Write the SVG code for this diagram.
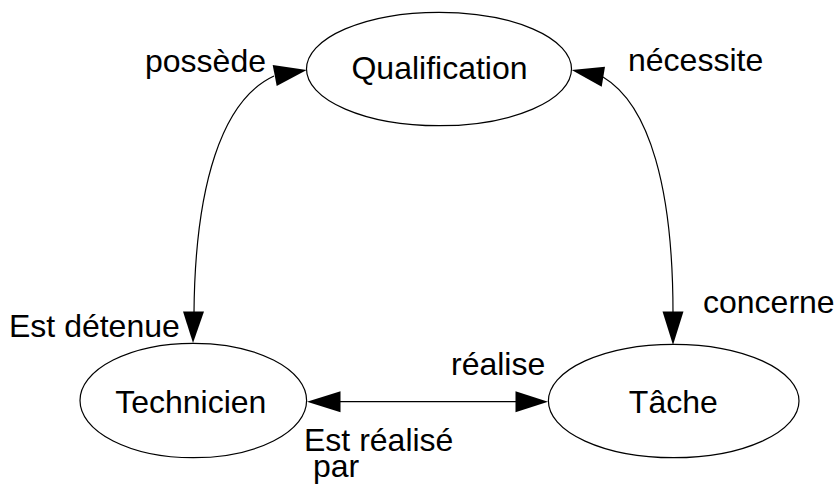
<svg xmlns="http://www.w3.org/2000/svg" width="837" height="494" viewBox="0 0 837 494">
<style>
  .shape { fill: #ffffff; stroke: #000000; stroke-width: 1.2; }
  .lbl { font-family: "Liberation Sans", Arial, sans-serif; font-size: 32px; fill: #000000; }
  .mid { text-anchor: middle; }
  .conn { fill: none; stroke: #000000; stroke-width: 1.2; }
  .head { fill: #000000; stroke: none; }
</style>
<rect width="837" height="494" fill="#ffffff"/>
<g id="connectors">
  <path class="conn" d="M 274 76 C 222 100, 195 185, 194 313"/>
  <polygon class="head" points="306.7,70 272.7,65 276.7,86"/>
  <polygon class="head" points="193,343 183,311.5 204,311.5"/>
  <path class="conn" d="M 603 77 C 650 105, 673 190, 673 313"/>
  <polygon class="head" points="571.7,70 605,66.7 601.7,86.7"/>
  <polygon class="head" points="673,345 662.5,311.5 683.5,311.5"/>
  <line class="conn" x1="338" y1="401.7" x2="517" y2="401.7"/>
  <polygon class="head" points="307,401.7 340.5,391.2 340.5,412.2"/>
  <polygon class="head" points="548,401.7 515.5,391.2 515.5,412.2"/>
  <text class="lbl" x="145" y="71.5">possède</text>
  <text class="lbl" x="628" y="71">nécessite</text>
  <text class="lbl" x="9" y="336.7">Est détenue</text>
  <text class="lbl" x="703" y="313.3">concerne</text>
  <text class="lbl" x="451" y="375">réalise</text>
  <text class="lbl"><tspan x="304" y="450.7">Est réalisé</tspan><tspan x="313" y="476.7">par</tspan></text>
</g>
<g id="qualification">
  <ellipse class="shape" cx="439" cy="69" rx="132.5" ry="56.7"/>
  <text class="lbl mid" x="439.5" y="79.3">Qualification</text>
</g>
<g id="technicien">
  <ellipse class="shape" cx="193.3" cy="400.5" rx="113.3" ry="57.2"/>
  <text class="lbl mid" x="190.8" y="413.3">Technicien</text>
</g>
<g id="tache">
  <ellipse class="shape" cx="673.7" cy="401" rx="125.3" ry="56.7"/>
  <text class="lbl mid" x="673.3" y="413.3">Tâche</text>
</g>
</svg>
